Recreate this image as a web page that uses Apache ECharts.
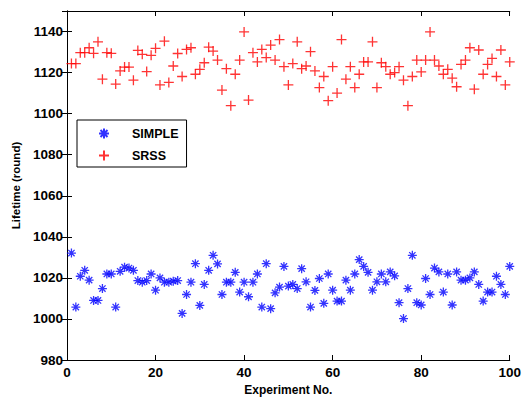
<!DOCTYPE html>
<html>
<head>
<meta charset="utf-8">
<script src="https://cdn.jsdelivr.net/npm/echarts@6/dist/echarts.min.js"></script>
<style>html,body{margin:0;padding:0;background:#fff}#c{width:524px;height:401px}</style>
</head>
<body>
<div id="c"></div>
<script>
var experiments = [1,2,3,4,5,6,7,8,9,10,11,12,13,14,15,16,17,18,19,20,21,22,23,24,25,26,27,28,29,30,31,32,33,34,35,36,37,38,39,40,41,42,43,44,45,46,47,48,49,50,51,52,53,54,55,56,57,58,59,60,61,62,63,64,65,66,67,68,69,70,71,72,73,74,75,76,77,78,79,80,81,82,83,84,85,86,87,88,89,90,91,92,93,94,95,96,97,98,99,100];
var simpleVals = [1032.1,1005.8,1020.8,1023.7,1018.9,1009,1009,1014.8,1021.9,1021.9,1005.8,1023.2,1025.2,1024.8,1023.7,1018.7,1017.9,1018.7,1021.9,1014,1020,1017.9,1017.9,1018.4,1018.7,1002.7,1011.9,1017.9,1026.9,1006.6,1016.8,1023.7,1031,1026.8,1011.9,1017.9,1017.9,1022.7,1013.1,1017.9,1010.8,1017.9,1021.9,1005.8,1026.9,1005,1012.7,1015.5,1025.6,1016,1016.8,1014.8,1024.5,1018.1,1005.8,1013.9,1019.7,1007.6,1021.9,1014,1008.7,1008.7,1018.9,1014,1021.9,1028.9,1025.6,1022.7,1014,1018.1,1021.9,1018.1,1022.9,1021,1007.9,1000.2,1014.8,1031,1007.9,1006.8,1019.7,1011.9,1024.8,1022.9,1013.1,1021.9,1006.8,1022.9,1018.9,1018.9,1020,1022.9,1016.8,1008.7,1013.1,1013.1,1020.8,1016.8,1011.9,1025.6];
var srssVals = [1124.4,1124.4,1129.7,1129.7,1132.1,1129.4,1135,1116.8,1129.7,1129.4,1114.4,1120.8,1122.7,1122.7,1116.3,1130.8,1128.9,1120.5,1128.4,1131.8,1114,1135.3,1115.2,1123.2,1129.3,1118.1,1131.3,1132.1,1119.2,1121.6,1124.8,1132.4,1130.5,1126.1,1111.5,1121.9,1103.9,1119.2,1126.1,1139.8,1106.6,1129.7,1125.2,1131.3,1127.3,1133.4,1126.1,1136.1,1122.9,1114,1124.4,1135,1121.9,1123.2,1130.2,1120.8,1112.7,1118.1,1106.3,1122.9,1110,1136.1,1116.8,1122.9,1112.7,1119.2,1125.2,1125.2,1135,1112.7,1124.8,1122.9,1119.2,1120,1122.9,1116.3,1103.9,1118.1,1126.1,1120.3,1126.1,1139.8,1126.1,1123.2,1119.2,1121.6,1117.3,1113.1,1124,1126.1,1132.1,1111.9,1131,1119.2,1124,1126.9,1118.1,1131,1114,1125.2];
var xTicks = [0,20,40,60,80,100];
var yTicks = [980,1000,1020,1040,1060,1080,1100,1120,1140];

function pairs(xs, ys){ return xs.map(function(x,i){ return [x, ys[i]]; }); }

var FONT = '"Liberation Sans", Arial, sans-serif';
var starPath = 'path://M0,-10L0,10M-10,0L10,0M-7,-7L7,7M-7,7L7,-7';
var plusPath = 'path://M0,-10L0,10M-10,0L10,0';

var baseAxis = {
  axisLine: {show: true, lineStyle: {color: '#000', width: 1}},
  axisTick: {show: true, inside: true, length: 5, lineStyle: {color: '#000', width: 1}},
  splitLine: {show: false}
};

var chart = echarts.init(document.getElementById('c'), null, {renderer: 'svg'});
chart.setOption({
  animation: false,
  backgroundColor: '#fff',
  grid: {left: 67, right: 11, top: 11, bottom: 38, show: false},
  legend: {
    orient: 'vertical',
    left: 77, top: 120,
    backgroundColor: '#fff',
    borderColor: '#000', borderWidth: 1, borderRadius: 0,
    padding: [7, 8, 5, 21],
    itemWidth: 10, itemHeight: 10, itemGap: 9,
    textStyle: {fontFamily: FONT, fontWeight: 'bold', fontSize: 12.5, color: '#000', padding: [0,0,0,18]},
    selectedMode: false,
    data: ['SIMPLE', 'SRSS']
  },
  xAxis: [
    Object.assign({}, baseAxis, {
      type: 'value', min: 0, max: 100, interval: 20, position: 'bottom',
      name: 'Experiment No.', nameLocation: 'middle', nameGap: 24,
      nameTextStyle: {fontFamily: FONT, fontWeight: 'bold', fontSize: 12, color: '#000'},
      axisLabel: {fontFamily: FONT, fontWeight: 'bold', fontSize: 13.5, color: '#000', margin: 5,
        formatter: function(v){ return xTicks.indexOf(v) >= 0 ? String(v) : ''; }}
    }),
    Object.assign({}, baseAxis, {
      type: 'value', min: 0, max: 100, interval: 20, position: 'top',
      axisLabel: {show: false}
    })
  ],
  yAxis: [
    Object.assign({}, baseAxis, {
      type: 'value', min: 980, max: 1150, interval: 20, position: 'left',
      name: 'Lifetime (round)', nameLocation: 'middle', nameGap: 39, nameRotate: 90,
      nameTextStyle: {fontFamily: FONT, fontWeight: 'bold', fontSize: 11.5, color: '#000'},
      axisLabel: {fontFamily: FONT, fontWeight: 'bold', fontSize: 13.5, color: '#000', margin: 4,
        formatter: function(v){ return yTicks.indexOf(v) >= 0 ? String(v) : ''; }}
    }),
    Object.assign({}, baseAxis, {
      type: 'value', min: 980, max: 1150, interval: 20, position: 'right',
      axisLabel: {show: false}
    })
  ],
  series: [
    {
      name: 'SIMPLE', type: 'scatter', xAxisIndex: 0, yAxisIndex: 0,
      symbol: starPath, symbolSize: 9,
      itemStyle: {color: 'rgba(0,0,0,0)', borderColor: '#0000ff', borderWidth: 1.3},
      emphasis: {disabled: true},
      silent: true,
      data: pairs(experiments, simpleVals)
    },
    {
      name: 'SRSS', type: 'scatter', xAxisIndex: 0, yAxisIndex: 0,
      symbol: plusPath, symbolSize: 10,
      itemStyle: {color: 'rgba(0,0,0,0)', borderColor: '#ff0000', borderWidth: 1.3},
      emphasis: {disabled: true},
      silent: true,
      data: pairs(experiments, srssVals)
    }
  ]
});
</script>
</body>
</html>
